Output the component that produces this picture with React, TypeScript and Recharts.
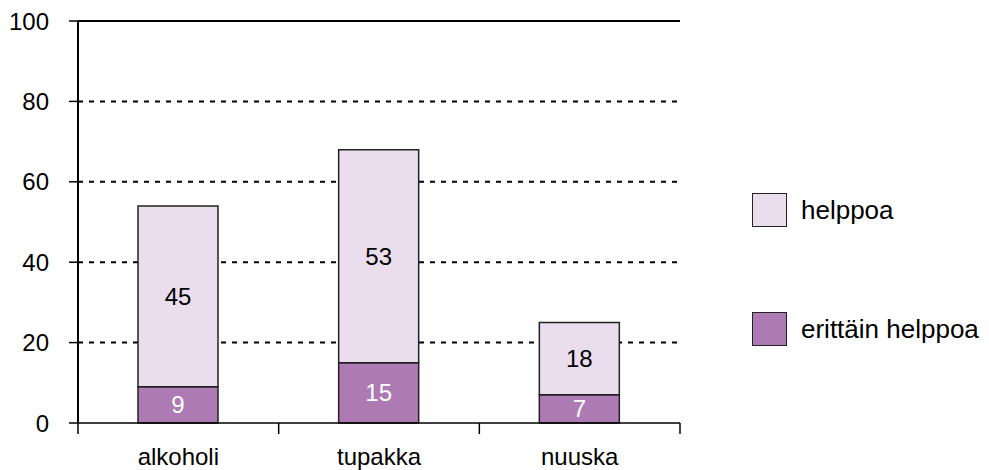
import React from 'react';
import { BarChart, Bar, XAxis, YAxis, CartesianGrid, ReferenceLine, LabelList } from 'recharts';

const categories = ['alkoholi', 'tupakka', 'nuuska'];
const erittainHelppoa = [9, 15, 7];
const helppoa = [45, 53, 18];
const yTicks = [0, 20, 40, 60, 80, 100];
const gridValues = [20, 40, 60, 80];

const data = categories.map((name, i) => ({
  name,
  erittain: erittainHelppoa[i],
  helppoa: helppoa[i],
}));

const FONT = '"Liberation Sans", Arial, Helvetica, sans-serif';
const DARK = '#ad7ab4';
const LIGHT = '#e9ddee';

function XTick(props: any) {
  const { x, y, payload, index, visibleTicksCount } = props;
  const count = visibleTicksCount || categories.length;
  const band = (props.width || 602) / count;
  const left = x - band / 2;
  const right = x + band / 2;
  return (
    <g>
      <line x1={left} y1={y} x2={left} y2={y + 11} stroke="#000" strokeWidth={1.5} />
      {index === count - 1 && (
        <line x1={right} y1={y} x2={right} y2={y + 11} stroke="#000" strokeWidth={1.5} />
      )}
      <text x={x} y={y + 42} textAnchor="middle" fontSize={24} fontFamily={FONT} fill="#000">
        {payload.value}
      </text>
    </g>
  );
}

function LegendBox() {
  const items = [
    { label: 'helppoa', color: LIGHT },
    { label: 'erittäin helppoa', color: DARK },
  ];
  return (
    <div style={{ position: 'absolute', left: 752, top: 193, fontFamily: FONT }}>
      {items.map((it, i) => (
        <div
          key={it.label}
          style={{ display: 'flex', alignItems: 'center', height: 34, marginTop: i === 0 ? 0 : 85 }}
        >
          <div
            style={{
              width: 33,
              height: 32,
              background: it.color,
              border: '1px solid #222',
              marginRight: 14,
            }}
          />
          <span style={{ fontSize: 26, color: '#000', whiteSpace: 'nowrap' }}>{it.label}</span>
        </div>
      ))}
    </div>
  );
}

export default function App() {
  return (
    <div style={{ position: 'absolute', left: 0, top: 0, width: 989, height: 470, background: '#fff' }}>
      <BarChart
        width={989}
        height={470}
        data={data}
        margin={{ top: 21, right: 309, bottom: 0, left: 0 }}
        barSize={80}
      >
        <CartesianGrid
          vertical={false}
          horizontalValues={gridValues}
          stroke="#000"
          strokeWidth={2}
          strokeDasharray="5 6"
        />
        <XAxis
          dataKey="name"
          height={47}
          tickLine={false}
          tickSize={0}
          tickMargin={0}
          axisLine={{ stroke: '#000', strokeWidth: 1.5 }}
          tick={<XTick />}
          interval={0}
        />
        <YAxis
          domain={[0, 100]}
          ticks={yTicks}
          width={78}
          tickSize={9}
          tickMargin={20}
          axisLine={{ stroke: '#000', strokeWidth: 2 }}
          tickLine={{ stroke: '#000', strokeWidth: 1.5 }}
          tick={{ fontSize: 24, fill: '#000', fontFamily: FONT }}
        />
        <YAxis
          yAxisId="right"
          orientation="right"
          domain={[0, 100]}
          width={0}
          tick={false}
          tickLine={false}
          axisLine={{ stroke: '#000', strokeWidth: 2 }}
        />
        <ReferenceLine y={100} stroke="#000" strokeWidth={2} />
        <Bar
          dataKey="erittain"
          name="erittäin helppoa"
          stackId="a"
          fill={DARK}
          stroke="#222"
          strokeWidth={1.5}
          isAnimationActive={false}
        >
          <LabelList dataKey="erittain" position="center" fill="#fff" fontSize={24} fontFamily={FONT} />
        </Bar>
        <Bar
          dataKey="helppoa"
          name="helppoa"
          stackId="a"
          fill={LIGHT}
          stroke="#222"
          strokeWidth={1.5}
          isAnimationActive={false}
        >
          <LabelList dataKey="helppoa" position="center" fill="#000" fontSize={24} fontFamily={FONT} />
        </Bar>
      </BarChart>
      <LegendBox />
    </div>
  );
}
